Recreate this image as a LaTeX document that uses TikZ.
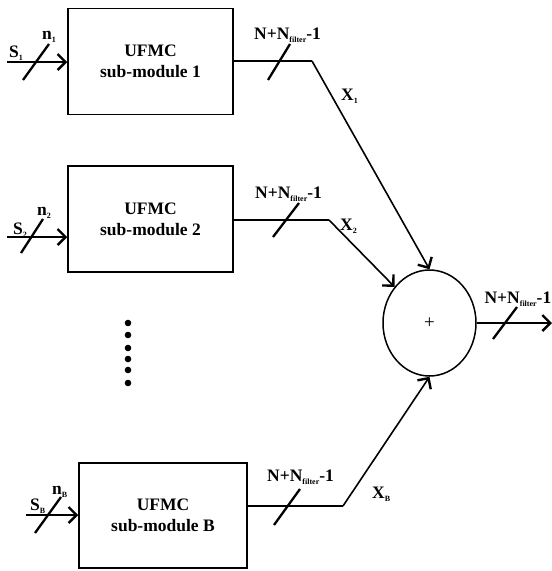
\documentclass[tikz,border=0pt]{standalone}
\usepackage{fontspec}
\setmainfont{Liberation Serif}
\usetikzlibrary{arrows.meta,shapes.geometric}
\newcommand{\lsub}[1]{\raisebox{-3pt}{\fontsize{8}{8}\selectfont #1}}
\newcommand{\nfilt}{N+N\lsub{filter}-1}

\begin{document}
\begin{tikzpicture}[x=1pt,y=-1pt,
  blk/.style={draw,line width=1.5pt,minimum width=165pt,minimum height=106pt,align=center,font=\fontsize{17.5}{21}\selectfont\bfseries},
  lbl/.style={font=\fontsize{17.5}{20}\selectfont\bfseries,inner sep=0pt},
  wire/.style={line width=1.6pt},
  arr/.style={line width=1.6pt,-{Straight Barb[length=8pt,width=16pt,line width=2.4pt]}},
  slsh/.style={line width=2.3pt}]
\useasboundingbox (0,0) rectangle (552,571);
% sub-modules and adder
\node[blk] (sm1) at (150.5,61.5) {UFMC\\sub-module 1};
\node[blk] (sm2) at (150.5,219) {UFMC\\sub-module 2};
\node[blk,minimum width=168pt,minimum height=105pt] (smB) at (163,515.5) {UFMC\\sub-module B};
\node[draw,ellipse,line width=1.5pt,minimum width=93pt,minimum height=106pt,inner sep=0pt] (sum) at (429.5,323) {\fontsize{19}{19}\selectfont +};
% inputs
\coordinate (in1) at (7,62);
\coordinate (in2) at (7,237);
\coordinate (inB) at (26,515);
\draw[arr] (in1) -- (in1-|sm1.west);
\draw[arr] (in2) -- (in2-|sm2.west);
\draw[arr] (inB) -- (inB-|smB.west);
\node[lbl,anchor=base west] (s1) at (9,57) {S\lsub{1}};
\node[lbl,anchor=base west] (n1) at (42,39) {n\lsub{1}};
\node[lbl,anchor=base west] (s2) at (13,234) {S\lsub{2}};
\node[lbl,anchor=base west] (n2) at (37,215) {n\lsub{2}};
\node[lbl,anchor=base west] (sB) at (30,510) {S\lsub{B}};
\node[lbl,anchor=base west] (nB) at (52,494) {n\lsub{B}};
% outputs to the adder
\coordinate (b1) at (312,61);
\coordinate (b2) at (329,220);
\coordinate (bB) at (343,506);
\draw[wire,line width=2.4pt] (b1-|sm1.east) -- (b1);
\draw[arr] (b1) -- (sum.north);
\draw[wire] (b2-|sm2.east) -- (b2);
\draw[arr] (b2) -- (sum.134);
\draw[wire] (bB-|smB.east) -- (bB);
\draw[arr] (bB) -- (sum.south);
\coordinate (out) at (552,323);
\draw[arr] (sum.east) -- (out);
\node[lbl,anchor=base west] (x1) at (341,100) {X\lsub{1}};
\node[lbl,anchor=base west] (x2) at (340,230) {X\lsub{2}};
\node[lbl,anchor=base west] (xB) at (372,498) {X\lsub{B}};
\node[lbl,anchor=base west] (w1) at (254,39) {\nfilt};
\node[lbl,anchor=base west] (w2) at (255,198) {\nfilt};
\node[lbl,anchor=base west] (wB) at (267,481) {\nfilt};
\node[lbl,anchor=base east] (wo) at (551.5,303) {\nfilt};
% bus width slashes
\draw[slsh] (36,62) ++(-13,18) -- ++(26,-36);
\draw[slsh] (32,236) ++(-11,17) -- ++(22,-34);
\draw[slsh] (48,515) ++(-13,18) -- ++(26,-36);
\draw[slsh] (279,62) ++(-11,18) -- ++(22,-36);
\draw[slsh] (286,220) ++(-13,17) -- ++(26,-34);
\draw[slsh] (287,507) ++(-13,18) -- ++(26,-36);
\draw[slsh] (505,323) ++(-12,16) -- ++(24,-32);
% dots
\foreach \y in {323,335,348,359,370,383}
  \fill (128,\y) circle (3.3pt);
\end{tikzpicture}
\end{document}
